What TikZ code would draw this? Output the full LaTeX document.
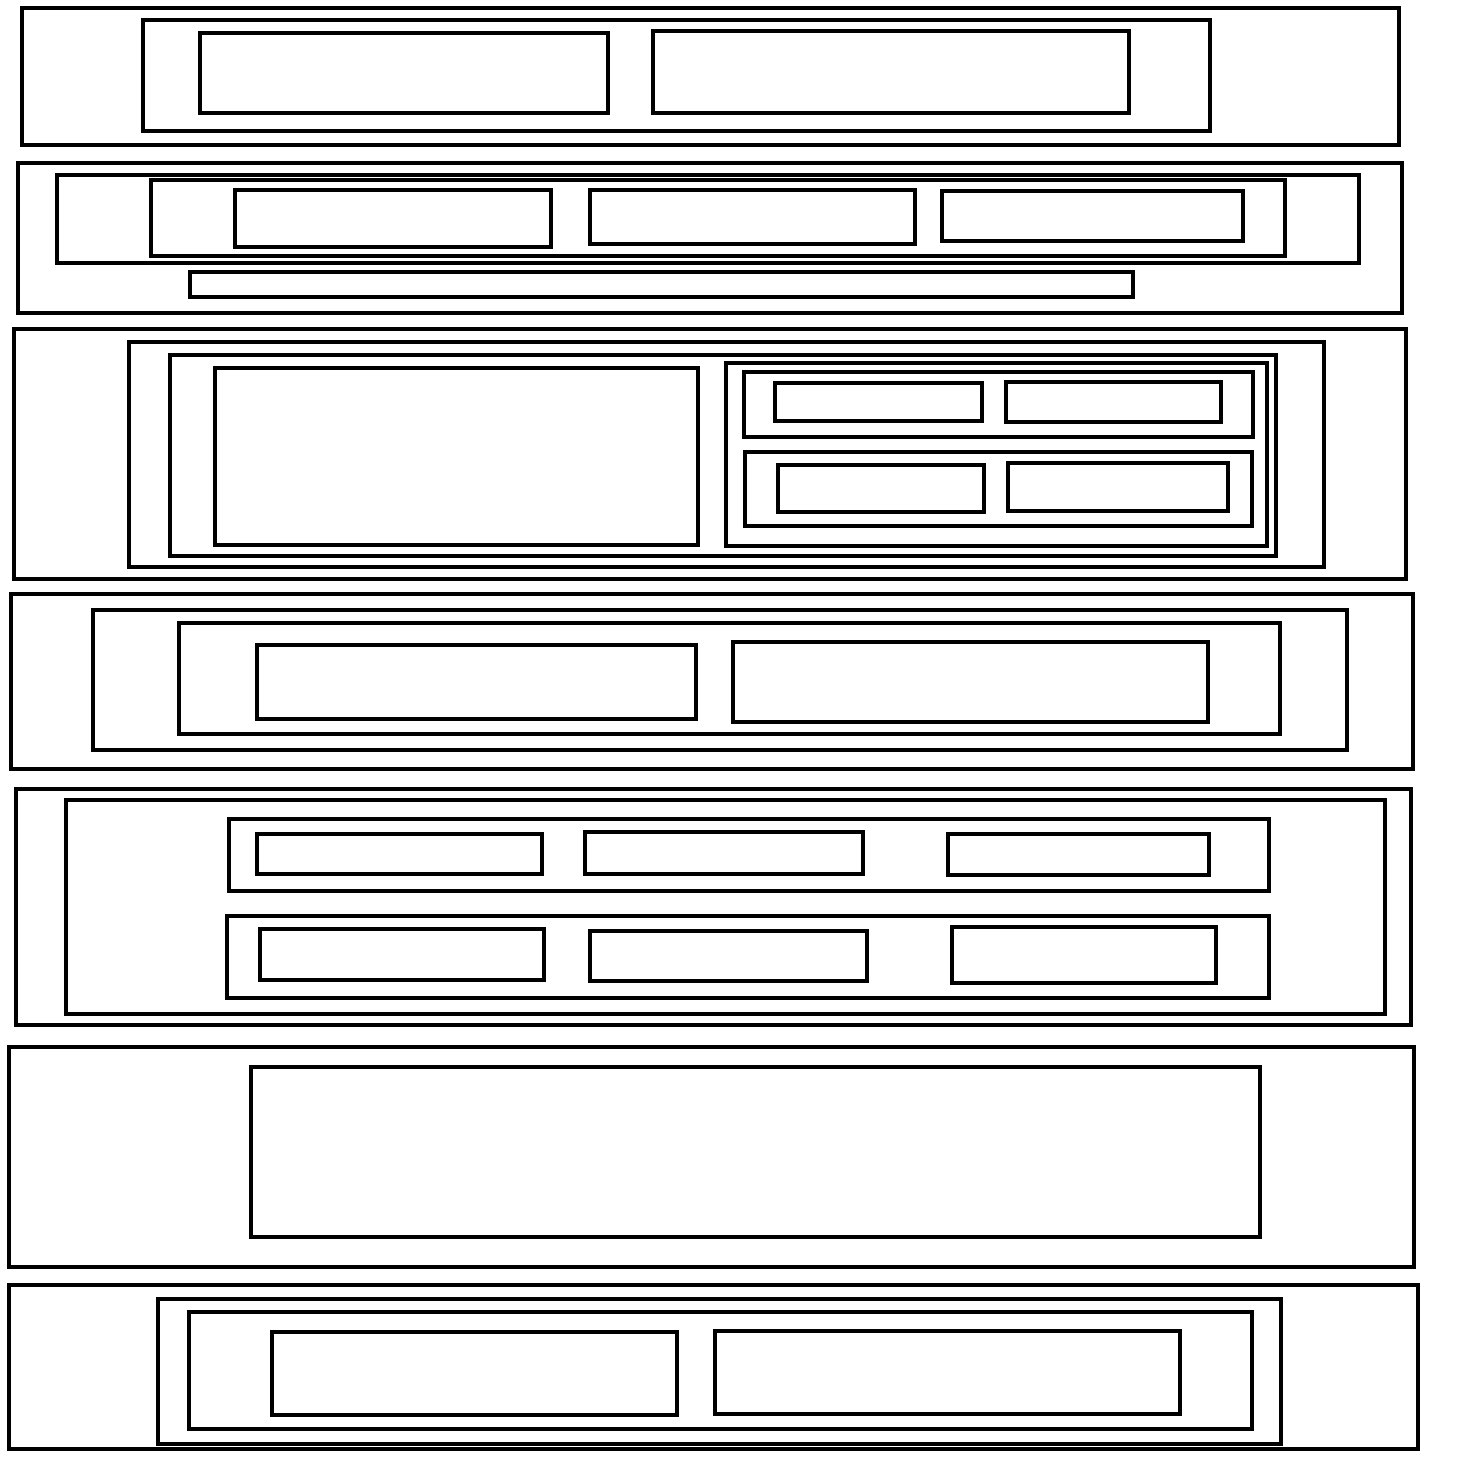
\documentclass[tikz,border=0pt]{standalone}
\usepackage{tikz}
\usetikzlibrary{calc,positioning}

\tikzset{
  frame/.style={draw=black, line width=1.15pt},
}

\begin{document}
\begin{tikzpicture}[x=0.01cm, y=-0.01cm]
        % Canvas
        \useasboundingbox (0,0) rectangle (1479,1471);
        % Band 1
        \draw[frame] (22,8) rectangle (1399,145);
        \draw[frame] (143,20) rectangle (1210,131);
        \draw[frame] (200,33) rectangle (608,113);
        \draw[frame] (653,31) rectangle (1129,113);
        % Band 2
        \draw[frame] (18,163) rectangle (1402,313);
        \draw[frame] (57,175) rectangle (1359,263);
        \draw[frame] (151,180) rectangle (1285,256);
        \draw[frame] (235,190) rectangle (551,247);
        \draw[frame] (590,190) rectangle (915,244);
        \draw[frame] (942,191) rectangle (1243,241);
        \draw[frame] (190,272) rectangle (1133,297);
        % Band 3
        \draw[frame] (14,329) rectangle (1406,579);
        \draw[frame] (129,342) rectangle (1324,567);
        \draw[frame] (170,355) rectangle (1276,556);
        \draw[frame] (215,368) rectangle (698,545);
        \draw[frame] (726,363) rectangle (1267,546);
        \draw[frame] (744,372) rectangle (1253,437);
        \draw[frame] (775,383) rectangle (982,421);
        \draw[frame] (1006,382) rectangle (1221,422);
        \draw[frame] (745,452) rectangle (1252,526);
        \draw[frame] (778,465) rectangle (984,512);
        \draw[frame] (1008,463) rectangle (1228,511);
        % Band 4
        \draw[frame] (11,594) rectangle (1413,769);
        \draw[frame] (93,610) rectangle (1347,750);
        \draw[frame] (179,623) rectangle (1280,734);
        \draw[frame] (257,645) rectangle (696,719);
        \draw[frame] (733,642) rectangle (1208,722);
        % Band 5
        \draw[frame] (16,789) rectangle (1411,1025);
        \draw[frame] (66,800) rectangle (1385,1014);
        \draw[frame] (229,819) rectangle (1269,891);
        \draw[frame] (257,834) rectangle (542,874);
        \draw[frame] (585,832) rectangle (863,874);
        \draw[frame] (948,834) rectangle (1209,875);
        \draw[frame] (227,916) rectangle (1269,998);
        \draw[frame] (260,929) rectangle (544,980);
        \draw[frame] (590,931) rectangle (867,981);
        \draw[frame] (952,927) rectangle (1216,983);
        % Band 6
        \draw[frame] (9,1047) rectangle (1414,1267);
        \draw[frame] (251,1067) rectangle (1260,1237);
        % Band 7
        \draw[frame] (9,1285) rectangle (1418,1449);
        \draw[frame] (158,1299) rectangle (1281,1444);
        \draw[frame] (189,1312) rectangle (1252,1429);
        \draw[frame] (272,1332) rectangle (677,1415);
        \draw[frame] (715,1331) rectangle (1180,1414);
      \end{tikzpicture}
\end{document}
